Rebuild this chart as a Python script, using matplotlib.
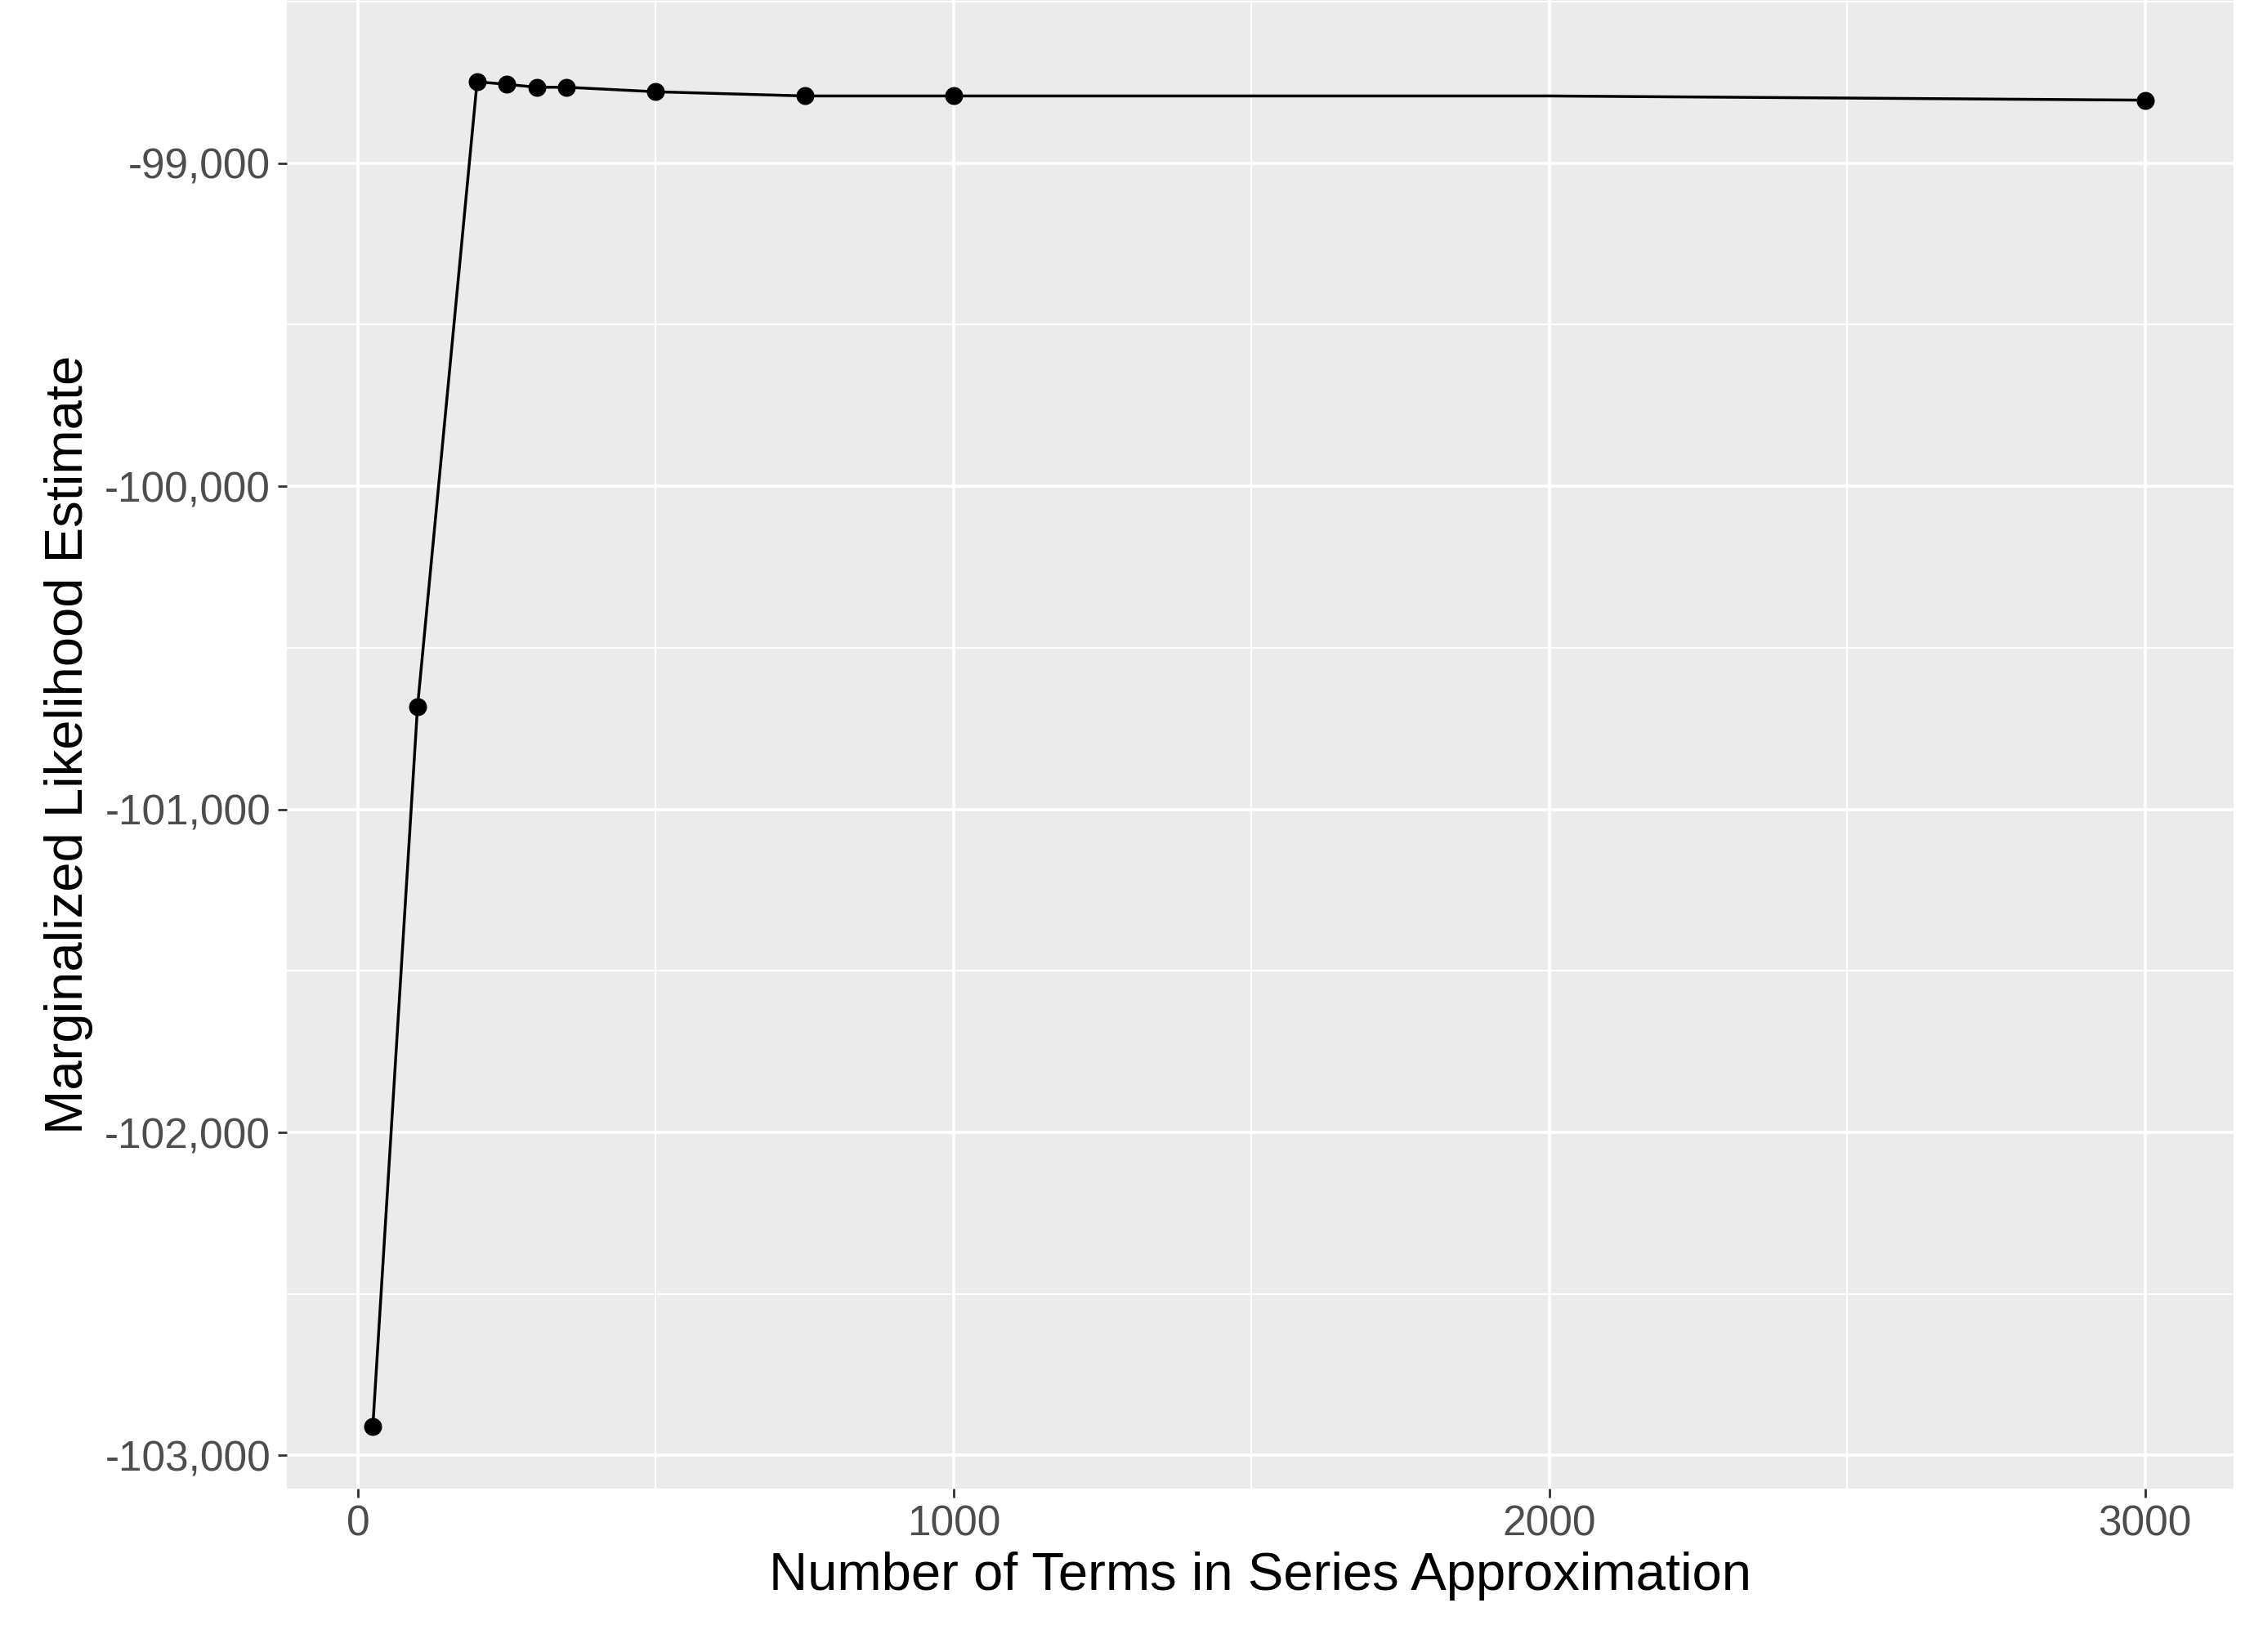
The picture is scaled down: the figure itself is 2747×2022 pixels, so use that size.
import matplotlib.pyplot as plt
from matplotlib.ticker import FuncFormatter, MultipleLocator

plt.rcParams["font.family"] = ["Liberation Sans", "DejaVu Sans"]

# line vertices (terms, estimate); markers only where a dot is visible
line_terms = [25, 100, 200, 250, 300, 350, 500, 750, 1000, 2000, 3000]
line_values = [-102910, -100683, -98748, -98756, -98765, -98765, -98779, -98792, -98792, -98792, -98805]
point_terms = [25, 100, 200, 250, 300, 350, 500, 750, 1000, 3000]
point_values = [-102910, -100683, -98748, -98756, -98765, -98765, -98779, -98792, -98792, -98805]

fig = plt.figure(figsize=(27.47, 20.22), dpi=100)
ax = fig.add_axes([0.1276, 0.099, 0.8674, 0.901])
ax.set_facecolor("#EBEBEB")
for s in ax.spines.values():
    s.set_visible(False)

ax.plot(line_terms, line_values, color="black", linewidth=2.5, zorder=3)
ax.scatter(point_terms, point_values, color="black", s=220, zorder=4)

ax.set_xlim(-120, 3149)
ax.set_ylim(-103102, -98495)
ax.xaxis.set_major_locator(MultipleLocator(1000))
ax.xaxis.set_minor_locator(MultipleLocator(500))
ax.yaxis.set_major_locator(MultipleLocator(1000))
ax.yaxis.set_minor_locator(MultipleLocator(500))
ax.yaxis.set_major_formatter(FuncFormatter(lambda v, p: f"{v:,.0f}"))
ax.grid(which="major", color="white", linewidth=2.6)
ax.grid(which="minor", color="white", linewidth=1.3)
ax.set_axisbelow(True)
ax.tick_params(which="major", length=8, width=2, color="#333333",
               labelsize=37, labelcolor="#4D4D4D", pad=6)
ax.tick_params(which="minor", length=0)

ax.set_xlabel("Number of Terms in Series Approximation", fontsize=47, labelpad=6)
ax.set_ylabel("Marginalized Likelihood Estimate", fontsize=47, labelpad=10)

fig.savefig("out.png", dpi=100)
